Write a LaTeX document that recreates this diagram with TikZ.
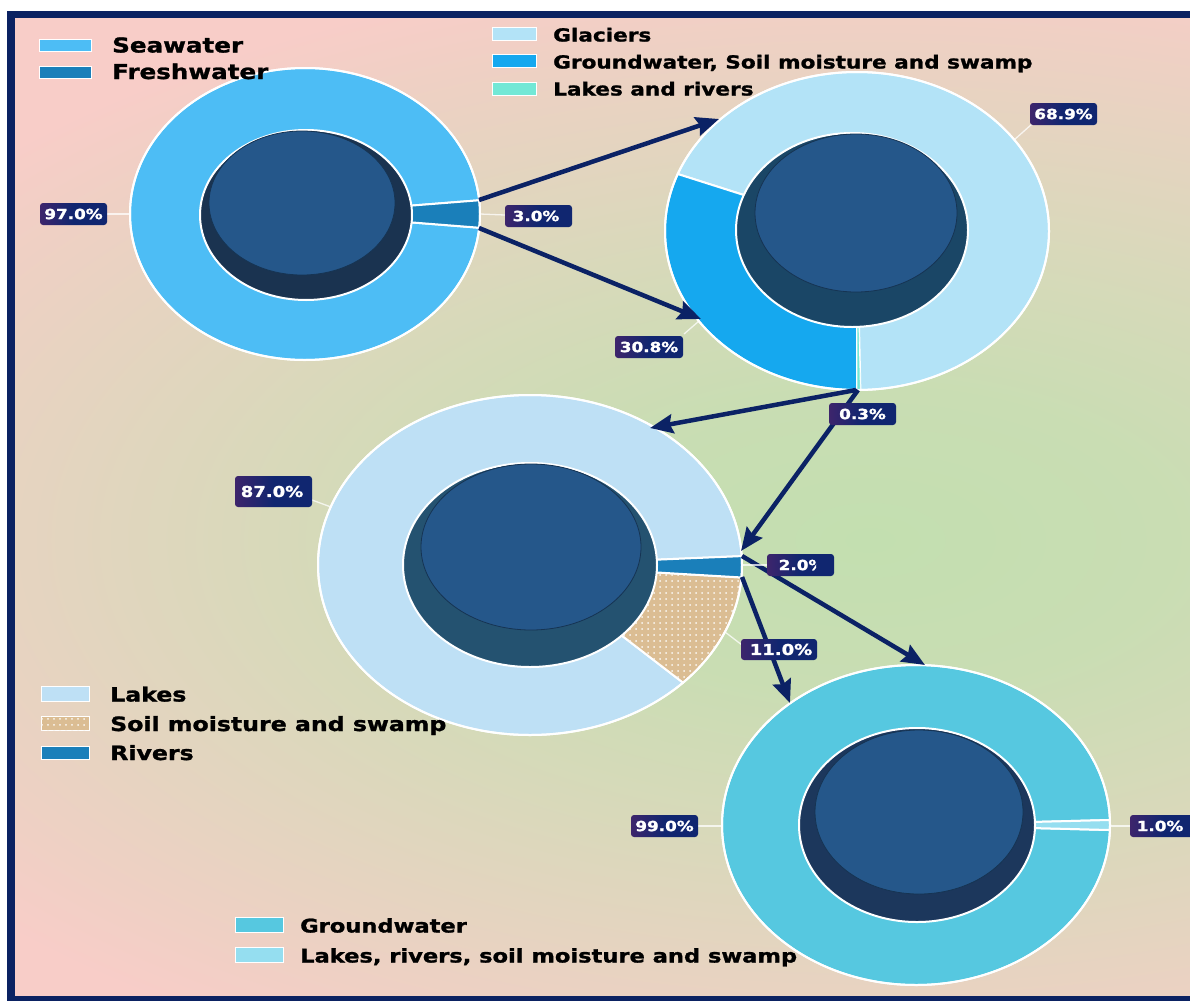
\documentclass[tikz,border=0pt]{standalone}
\usepackage{fontspec}
\setmainfont{DejaVu Sans}
\newfontfamily\dvbold{DejaVu Sans}[UprightFont={* Bold}, FakeBold=1.2]
\usepackage{graphicx}
\usetikzlibrary{arrows.meta,patterns.meta}

\definecolor{framec}{HTML}{0B2262}
\definecolor{arrowc}{HTML}{0B2265}
\definecolor{bg0}{HTML}{C3DFB0}
\definecolor{bg1}{HTML}{C9DDB3}
\definecolor{bg2}{HTML}{D8D9BA}
\definecolor{bg3}{HTML}{E5D4C0}
\definecolor{bg4}{HTML}{EFD0C4}
\definecolor{bg5}{HTML}{F8CDC8}
\definecolor{boxP}{HTML}{6A2468}
\definecolor{boxN}{HTML}{102670}
\definecolor{seaw}{HTML}{4DBDF5}
\definecolor{fresh}{HTML}{1A7FBA}
\definecolor{glac}{HTML}{B3E3F7}
\definecolor{gsoil}{HTML}{15A8EF}
\definecolor{lakriv}{HTML}{73E8D6}
\definecolor{lakes}{HTML}{BEE0F5}
\definecolor{soil}{HTML}{DBBD93}
\definecolor{rivers}{HTML}{1A7FBA}
\definecolor{gwater}{HTML}{56C8E0}
\definecolor{lrsms}{HTML}{95DEF0}
\definecolor{btn}{HTML}{25578A}
\definecolor{holeA}{HTML}{1A3350}
\definecolor{holeB}{HTML}{1A4666}
\definecolor{holeC}{HTML}{245270}
\definecolor{holeD}{HTML}{1C375C}

\pgfdeclareradialshading{bgshade}{\pgfpoint{0bp}{0bp}}{color(0bp)=(bg0); color(7.5bp)=(bg1); color(15bp)=(bg2); color(21bp)=(bg3); color(25.5bp)=(bg4); color(29bp)=(bg5); color(50bp)=(bg5)}
\pgfdeclarehorizontalshading{boxshade}{100bp}{color(0bp)=(boxP); color(50bp)=(boxN); color(100bp)=(boxN)}

% slice: cx cy rx ry a1 a2 style
\newcommand\donutslice[7]{\fill[#7] (#1,#2) -- ({#1+#3*cos(#5)},{#2-#4*sin(#5)}) arc[start angle={-(#5)}, end angle={-(#6)}, x radius=#3, y radius=#4] -- cycle;}
% label box: x1 y1 x2 y2
\newcommand\pctbox[4]{\shade[shading=boxshade, rounded corners=3pt] (#1,#2) rectangle (#3,#4);}

\begin{document}
\begin{tikzpicture}[x=1pt,y=-1pt,
  flow/.style={draw=arrowc, line width=4.5pt, -{Stealth[length=23pt,width=19pt,inset=3pt]}},
  leader/.style={draw=white, draw opacity=0.75, line width=1.3pt},
  pcttext/.style={text=white, font=\dvbold\fontsize{14}{15}\selectfont, inner sep=0pt},
  pctbig/.style={text=white, font=\dvbold\fontsize{15}{16}\selectfont, inner sep=0pt},
  legtext/.style={anchor=base west, inner sep=0pt, text=black},
  patch/.style={draw=white, line width=0.8pt},
  edge/.style={draw=white, line width=2pt},
  btnface/.style={fill=btn, draw=black!40!btn, line width=0.8pt}
]
\useasboundingbox (0,0) rectangle (1190,1001);
\fill[white] (0,0) rectangle (1190,1001);
\fill[framec] (7,11) rectangle (1190,1001);
\begin{scope}
  \clip (15,18) rectangle (1190,995);
  \node[inner sep=0pt, outer sep=0pt, xscale=40, yscale=20, transform shape] (bg) at (870,540) {\pgfuseshading{bgshade}};
\end{scope}

% centres
\coordinate (c1) at (305,214);
\coordinate (c2) at (857,231);
\coordinate (c3) at (530,565);
\coordinate (c4) at (916,825);

% ---------- Donut 1 ----------
\donutslice{305}{214}{175}{146}{5.4}{354.6}{fill=seaw, edge}
\donutslice{305}{214}{175}{146}{-5.4}{5.4}{fill=fresh, edge}
\draw[edge] (c1) ellipse [x radius=175, y radius=146];
\fill[holeA, draw=white, line width=2pt] (306,215) ellipse [x radius=106, y radius=85];
\fill[btnface] (302,203) ellipse [x radius=93, y radius=72];

% ---------- Donut 2 ----------
\donutslice{857}{231}{192}{159}{271}{519}{fill=glac, edge}
\donutslice{857}{231}{192}{159}{159}{270}{fill=gsoil, edge}
\donutslice{857}{231}{192}{159}{270}{271}{fill=lakriv, draw=white, line width=0.8pt}
\draw[edge] (c2) ellipse [x radius=192, y radius=159];
\fill[holeB, draw=white, line width=2pt] (852,230) ellipse [x radius=116, y radius=97];
\fill[btnface] (856,213) ellipse [x radius=101, y radius=79];

% ---------- Donut 3 ----------
\donutslice{530}{565}{212}{170}{3}{316.2}{fill=lakes, edge}
\donutslice{530}{565}{212}{170}{-43.8}{-4.2}{fill=soil, edge}
\donutslice{530}{565}{212}{170}{-43.8}{-4.2}{pattern={Dots[distance=6pt,radius=1pt]}, pattern color=white!90!soil}
\donutslice{530}{565}{212}{170}{-4.2}{3}{fill=rivers, edge}
\draw[edge] (c3) ellipse [x radius=212, y radius=170];
\fill[holeC, draw=white, line width=2pt] (530,565) ellipse [x radius=127, y radius=102];
\fill[btnface] (531,547) ellipse [x radius=110, y radius=83];

% ---------- Donut 4 ----------
\donutslice{916}{825}{194}{160}{1.8}{358.2}{fill=gwater, edge}
\donutslice{916}{825}{194}{160}{-1.8}{1.8}{fill=lrsms, edge}
\draw[edge] (c4) ellipse [x radius=194, y radius=160];
\fill[holeD, draw=white, line width=2pt] (917,825) ellipse [x radius=118, y radius=97];
\fill[btnface] (919,812) ellipse [x radius=104, y radius=82];

% ---------- arrows ----------
\coordinate (a1s) at (479,200);
\coordinate (a1e) at (719,119);
\coordinate (a2s) at (479,228);
\coordinate (a2e) at (701,319);
\coordinate (a3s) at (856,390);
\coordinate (a3e) at (650,428);
\coordinate (a4s) at (858,390);
\coordinate (a4e) at (741,551);
\coordinate (a5s) at (742,556);
\coordinate (a5e) at (925,665);
\coordinate (a6s) at (742,577);
\coordinate (a6e) at (790,703);
\draw[flow] (a1s) -- (a1e);
\draw[flow] (a2s) -- (a2e);
\draw[flow] (a3s) -- (a3e);
\draw[flow] (a4s) -- (a4e);
\draw[flow] (a5s) -- (a5e);
\draw[flow] (a6s) -- (a6e);

% ---------- leader lines ----------
\draw[leader] (107,214) -- (130,214);
\draw[leader] (480,214) -- (505,215);
\draw[leader] (1014,140) -- (1032,124);
\draw[leader] (699,321) -- (684,334);
\draw[leader] (312,500) -- (331,507);
\draw[leader] (725,632) -- (742,645);
\draw[leader] (742,565) -- (767,565);
\draw[leader] (698,826) -- (722,826);
\draw[leader] (1110,826) -- (1130,826);

% ---------- percentage labels ----------
\pctbox{40}{203}{107}{225}
\node[pcttext] (p97) at (73.5,214) {\scalebox{1.2}[1]{97.0\%}};
\pctbox{505}{205}{572}{227}
\node[pcttext] (p3) at (536,216) {\scalebox{1.2}[1]{3.0\%}};
\pctbox{1030}{103}{1097}{125}
\node[pcttext] (p689) at (1063.5,114) {\scalebox{1.2}[1]{68.9\%}};
\pctbox{615}{336}{683}{358}
\node[pcttext] (p308) at (649,347) {\scalebox{1.2}[1]{30.8\%}};
\pctbox{829}{403}{896}{425}
\node[pcttext] (p03) at (862.5,414) {\scalebox{1.2}[1]{0.3\%}};
\pctbox{235}{476}{312}{507}
\node[pctbig] (p87) at (272,491.5) {\scalebox{1.2}[1]{87.0\%}};
\pctbox{767}{554}{834}{576}
\begin{scope}
  \clip (767,554) rectangle (816,576);
  \node[pcttext] (p2) at (802,565) {\scalebox{1.2}[1]{2.0\%}};
\end{scope}
\pctbox{741}{639}{817}{660}
\node[pctbig] (p11) at (781,649.5) {\scalebox{1.2}[1]{11.0\%}};
\pctbox{631}{815}{698}{837}
\node[pcttext] (p99) at (664.5,826) {\scalebox{1.2}[1]{99.0\%}};
\pctbox{1130}{815}{1197}{837}
\node[pcttext] (p1) at (1160,826) {\scalebox{1.2}[1]{1.0\%}};

% ---------- legends ----------
\fill[seaw, patch] (39,39) rectangle (91,51);
\fill[fresh, patch] (39,66) rectangle (91,78);
\node[legtext, font=\dvbold\fontsize{20.5}{24}\selectfont] (lg1) at (112,52.5) {\scalebox{1.2}[1]{Seawater}};
\node[legtext, font=\dvbold\fontsize{20.5}{24}\selectfont] (lg2) at (112,79) {\scalebox{1.2}[1]{Freshwater}};

\fill[glac, patch] (492,27) rectangle (536,40);
\fill[gsoil, patch] (492,54) rectangle (536,67);
\fill[lakriv, patch] (492,82) rectangle (536,95);
\node[legtext, font=\dvbold\fontsize{18}{22}\selectfont] (lg3) at (553,41.5) {\scalebox{1.2}[1]{Glaciers}};
\node[legtext, font=\dvbold\fontsize{18}{22}\selectfont] (lg4) at (553,68.5) {\scalebox{1.2}[1]{Groundwater, Soil moisture and swamp}};
\node[legtext, font=\dvbold\fontsize{18}{22}\selectfont] (lg5) at (553,95.5) {\scalebox{1.2}[1]{Lakes and rivers}};

\fill[lakes, patch] (41,686) rectangle (89,701);
\fill[soil, patch] (41,716) rectangle (89,730);
\fill[pattern={Dots[distance=6pt,radius=1pt]}, pattern color=white!90!soil] (41,716) rectangle (89,730);
\fill[rivers, patch] (41,746) rectangle (89,759);
\node[legtext, font=\dvbold\fontsize{19.7}{23}\selectfont] (lg6) at (110,701.5) {\scalebox{1.2}[1]{Lakes}};
\node[legtext, font=\dvbold\fontsize{19.7}{23}\selectfont] (lg7) at (110,731) {\scalebox{1.2}[1]{Soil moisture and swamp}};
\node[legtext, font=\dvbold\fontsize{19.7}{23}\selectfont] (lg8) at (110,760) {\scalebox{1.2}[1]{Rivers}};

\fill[gwater, patch] (235,917) rectangle (283,932);
\fill[lrsms, patch] (235,947) rectangle (283,962);
\node[legtext, font=\dvbold\fontsize{18.8}{22}\selectfont] (lg9) at (300,932.5) {\scalebox{1.2}[1]{Groundwater}};
\node[legtext, font=\dvbold\fontsize{18.8}{22}\selectfont] (lg10) at (300,962.5) {\scalebox{1.2}[1]{Lakes, rivers, soil moisture and swamp}};
\end{tikzpicture}
\end{document}
